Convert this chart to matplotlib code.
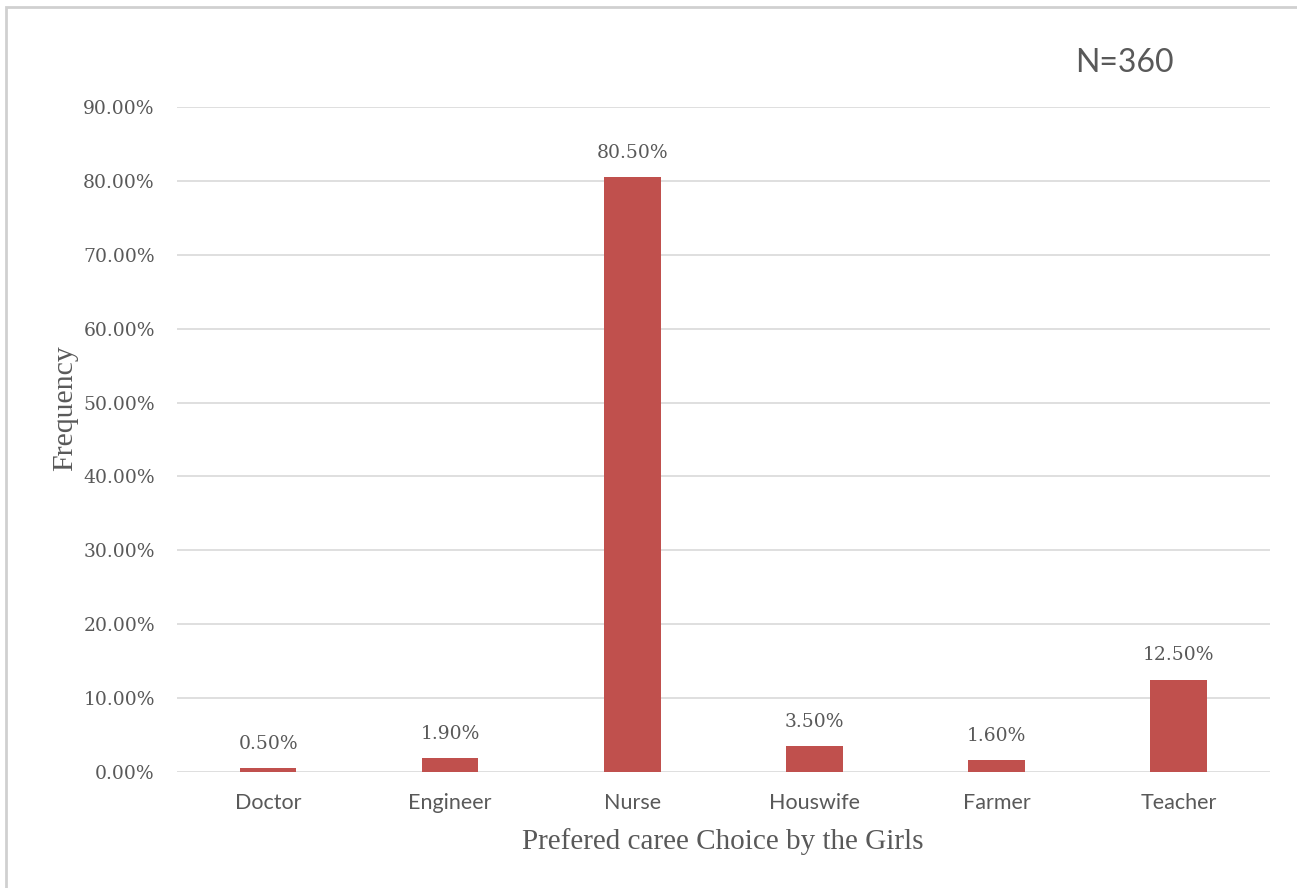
import matplotlib.pyplot as plt
from matplotlib.patches import Rectangle
from matplotlib.ticker import FuncFormatter

careers = ["Doctor", "Engineer", "Nurse", "Houswife", "Farmer", "Teacher"]
share = [0.50, 1.90, 80.50, 3.50, 1.60, 12.50]
y_ticks = [0, 10, 20, 30, 40, 50, 60, 70, 80, 90]

grey = "#595959"

fig = plt.figure(figsize=(12.97, 8.88), dpi=100)
ax = fig.add_axes([0.1365, 0.1306, 0.979 - 0.1365, 0.8795 - 0.1306])

x = range(len(careers))
bars = ax.bar(x, share, width=0.31, color="#c0504d", zorder=3)

ax.set_xlim(-0.5, len(careers) - 0.5)
ax.set_ylim(0, 90)
ax.set_yticks(y_ticks)
ax.yaxis.set_major_formatter(FuncFormatter(lambda v, p: f"{v:.2f}%"))
ax.grid(axis="y", color="#d9d9d9", linewidth=1.2, zorder=0)
for s in ax.spines.values():
    s.set_visible(False)

ax.tick_params(axis="y", length=0, pad=16, labelsize=13.5, labelcolor=grey)
ax.tick_params(axis="x", length=0, pad=15, labelsize=15.5, labelcolor=grey)
for lab in ax.get_yticklabels():
    lab.set_family("DejaVu Serif")
ax.set_xticks(list(x))
ax.set_xticklabels(careers, family="Lato")

for b, v in zip(bars, share):
    ax.annotate(f"{v:.2f}%", (b.get_x() + b.get_width() / 2, v),
                xytext=(0, 11), textcoords="offset points",
                ha="center", va="bottom", fontsize=13.5, color=grey,
                family="DejaVu Serif")

fig.text(0.557, 0.052, "Prefered caree Choice by the Girls", ha="center",
         va="center", fontsize=21, color=grey, family="Liberation Serif")
fig.text(0.05, 0.54, "Frequency", ha="center", va="center", rotation=90,
         fontsize=21.5, color=grey, family="Liberation Serif")
fig.text(0.867, 0.929, "N=360", ha="center", va="center", fontsize=23,
         color=grey, family="Lato")

fig.patches.append(Rectangle((6 / 1297, -0.1), 1.2, 1.1 - 8 / 888 + 0.001,
                             transform=fig.transFigure, fill=False,
                             edgecolor="#d0d0d0", linewidth=2))

fig.savefig("out.png", dpi=100)
